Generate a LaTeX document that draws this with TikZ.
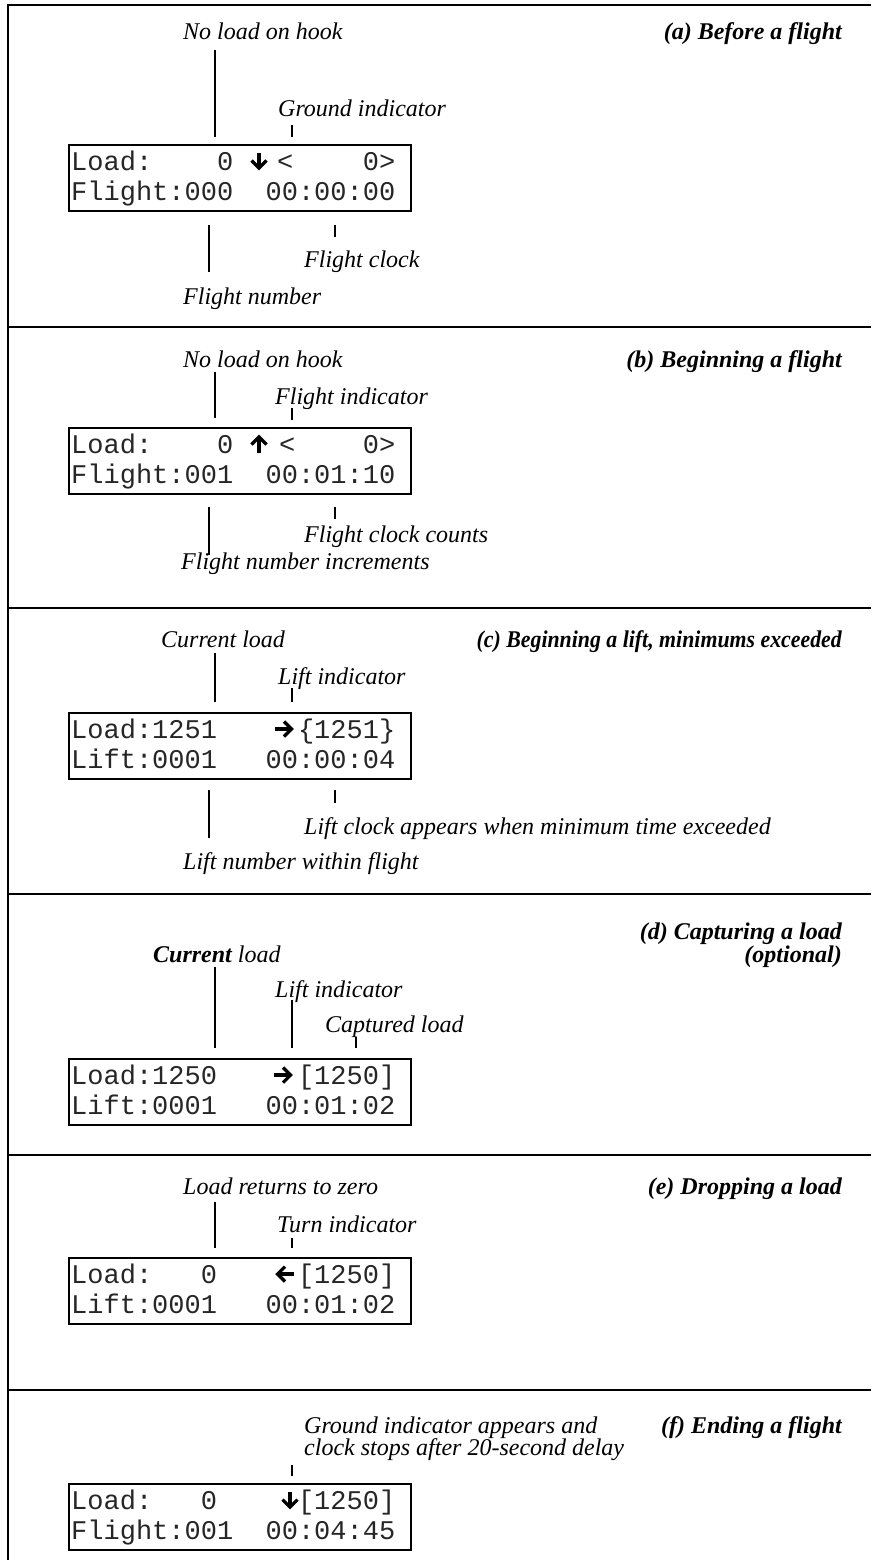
\documentclass[tikz,border=0pt]{standalone}
\usepackage{fontspec}
\setmainfont{Liberation Serif}
\newfontfamily\lcdfont{Liberation Mono}
\tikzset{
  rule/.style={line width=2.6pt},
  lcdbox/.style={draw, line width=2.4pt},
  lcd/.style={anchor=base west, inner sep=0pt, text=black!85, font=\lcdfont\fontsize{27}{27}\selectfont},
  lbl/.style={anchor=base west, inner sep=0pt, font=\itshape\fontsize{24}{24}\selectfont},
  ttl/.style={anchor=base east, inner sep=0pt, font=\bfseries\itshape\fontsize{24}{24}\selectfont},
  leader/.style={line width=1.6pt},
  ind/.style={line width=3.2pt, line join=miter},
  arrowdn/.pic={\draw[ind] (0,-8.5) -- (0,7); \draw[ind] (-7.5,-0.5) -- (0,7) -- (7.5,-0.5);},
  arrowup/.pic={\draw[ind] (0,8.5) -- (0,-7); \draw[ind] (-7.5,0.5) -- (0,-7) -- (7.5,0.5);},
  arrowrt/.pic={\draw[ind] (-9,0) -- (7.5,0); \draw[ind] (0,-7.5) -- (7.5,0) -- (0,7.5);},
  arrowlt/.pic={\draw[ind] (9,0) -- (-7.5,0); \draw[ind] (0,-7.5) -- (-7.5,0) -- (0,7.5);},
}
\begin{document}
\begin{tikzpicture}[x=1pt,y=-1pt]
\useasboundingbox (0,0) rectangle (871,1560);
% frame and separators
\draw[rule] (8,1560) -- (8,5) -- (871,5);
\foreach \yy in {327,608,894,1155,1390} \draw[rule] (8,\yy) -- (871,\yy);

% ---------- (a)
\node[ttl] (ta) at (842,40) {(a) Before a flight};
\node[lbl] (a-noload) at (183,40) {No load on hook};
\node[lbl] (a-ground) at (278,117) {Ground indicator};
\node[lcdbox, minimum width=342pt, minimum height=66pt, anchor=north west, inner sep=0pt] (boxa) at (68,144) {};
\node[lcd] (a1) at (71,170) {Load:~~~~0};
\node[lcd] (a1b) at (277,170) {<};
\node[lcd] (a1c) at (362.6,170) {0>};
\pic at (259,161) {arrowdn};
\node[lcd] (a2) at (71,200) {Flight:000~~00:00:00};
\node[lbl] (a-clock) at (304,267) {Flight clock};
\node[lbl] (a-num) at (183,304) {Flight number};
\draw[leader] (215,50) -- (215,137);
\draw[leader] (292,125) -- (292,137);
\draw[leader] (209,225) -- (209,272);
\draw[leader] (335,225) -- (335,237);

% ---------- (b)
\node[ttl] (tb) at (842,367) {(b) Beginning a flight};
\node[lbl] (b-noload) at (183,367) {No load on hook};
\node[lbl] (b-flight) at (275,404) {Flight indicator};
\node[lcdbox, minimum width=342pt, minimum height=66pt, anchor=north west, inner sep=0pt] (boxb) at (68,427) {};
\node[lcd] (b1) at (71,453) {Load:~~~~0};
\node[lcd] (b1b) at (279,453) {<};
\node[lcd] (b1c) at (362.6,453) {0>};
\pic at (259,444) {arrowup};
\node[lcd] (b2) at (71,483) {Flight:001~~00:01:10};
\node[lbl] (b-clock) at (304,542) {Flight clock counts};
\node[lbl] (b-num) at (181,569) {Flight number increments};
\draw[leader] (215,372) -- (215,418);
\draw[leader] (292,408) -- (292,420);
\draw[leader] (209,507) -- (209,555);
\draw[leader] (335,507) -- (335,519);

% ---------- (c)
\node[ttl] (tc) at (842,647) {\scalebox{0.91}[1]{(c) Beginning a lift, minimums exceeded}};
\node[lbl] (c-cur) at (161,647) {Current load};
\node[lbl] (c-lift) at (278,684) {Lift indicator};
\node[lcdbox, minimum width=342pt, minimum height=66pt, anchor=north west, inner sep=0pt] (boxc) at (68,712) {};
\node[lcd] (c1) at (71,738) {Load:1251~~~~~\{1251\}};
\pic at (284,729) {arrowrt};
\node[lcd] (c2) at (71,768) {Lift:0001~~~00:00:04};
\node[lbl] (c-clock) at (304,834) {Lift clock appears when minimum time exceeded};
\node[lbl] (c-num) at (183,869) {Lift number within flight};
\draw[leader] (215,653) -- (215,702);
\draw[leader] (292,688) -- (292,702);
\draw[leader] (209,790) -- (209,838);
\draw[leader] (335,790) -- (335,803);

% ---------- (d)
\node[ttl] (td1) at (842,939) {(d) Capturing a load};
\node[ttl] (td2) at (842,962) {(optional)};
\node[lbl] (d-cur) at (153,962) {{\bfseries Current} load};
\node[lbl] (d-lift) at (275,997) {Lift indicator};
\node[lbl] (d-cap) at (325,1032) {Captured load};
\node[lcdbox, minimum width=342pt, minimum height=66pt, anchor=north west, inner sep=0pt] (boxd) at (68,1058) {};
\node[lcd] (d1) at (71,1084) {Load:1250~~~~~[1250]};
\pic at (283,1075) {arrowrt};
\node[lcd] (d2) at (71,1114) {Lift:0001~~~00:01:02};
\draw[leader] (215,967) -- (215,1048);
\draw[leader] (292,1000) -- (292,1048);
\draw[leader] (356,1037) -- (356,1048);

% ---------- (e)
\node[ttl] (te) at (842,1194) {(e) Dropping a load};
\node[lbl] (e-ret) at (183,1194) {Load returns to zero};
\node[lbl] (e-turn) at (277,1232) {Turn indicator};
\node[lcdbox, minimum width=342pt, minimum height=66pt, anchor=north west, inner sep=0pt] (boxe) at (68,1257) {};
\node[lcd] (e1) at (71,1283) {Load:~~~0~~~~~[1250]};
\pic at (285,1274) {arrowlt};
\node[lcd] (e2) at (71,1313) {Lift:0001~~~00:01:02};
\draw[leader] (215,1202) -- (215,1248);
\draw[leader] (292,1238) -- (292,1248);

% ---------- (f)
\node[ttl] (tf) at (842,1433) {(f) Ending a flight};
\node[lbl] (f-g1) at (304,1433) {Ground indicator appears and};
\node[lbl] (f-g2) at (304,1455) {clock stops after 20-second delay};
\node[lcdbox, minimum width=342pt, minimum height=66pt, anchor=north west, inner sep=0pt] (boxf) at (68,1483) {};
\node[lcd] (f1) at (71,1509) {Load:~~~0~~~~~[1250]};
\pic at (290,1500) {arrowdn};
\node[lcd] (f2) at (71,1539) {Flight:001~~00:04:45};
\draw[leader] (292,1465) -- (292,1476);
\end{tikzpicture}
\end{document}
